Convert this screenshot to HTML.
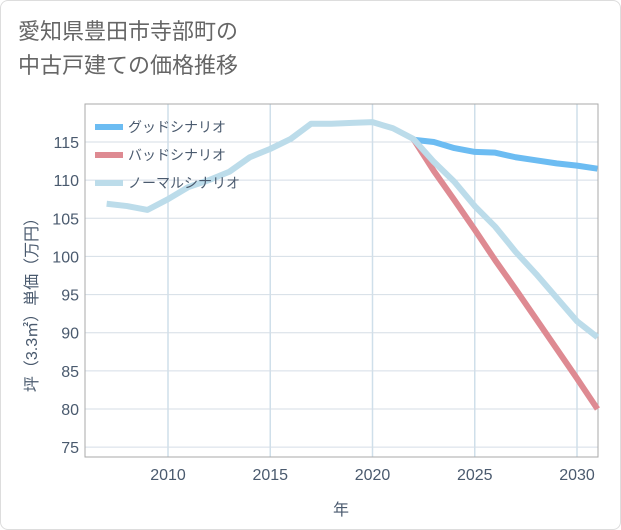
<!DOCTYPE html>
<html><head><meta charset="utf-8"><style>
body{margin:0;background:#fff;}
#wrap{position:relative;width:619px;height:528px;border:1px solid #ddd;border-radius:8px;background:#fff;overflow:hidden;font-family:"Liberation Sans","Noto Sans CJK JP",sans-serif;}
#title{position:absolute;left:17px;top:14px;font-size:22px;line-height:34px;color:#666;}
svg{position:absolute;left:0;top:0;}
</style></head><body>
<div id="wrap">
<div id="title">愛知県豊田市寺部町の<br>中古戸建ての価格推移</div>
<svg id="chart" width="621" height="530"></svg>
</div>
<script>
const years=[2007,2008,2009,2010,2011,2012,2013,2014,2015,2016,2017,2018,2019,2020,2021,2022,2023,2024,2025,2026,2027,2028,2029,2030,2031];
const normal=[106.9,106.6,106.1,107.5,109.1,110,111.1,113,114.1,115.4,117.4,117.4,117.5,117.6,116.8,115.4,112.4,109.8,106.6,103.9,100.6,97.7,94.6,91.5,89.4];
const goodYears=[2022,2023,2024,2025,2026,2027,2028,2029,2030,2031];
const good=[115.3,115.0,114.2,113.7,113.6,113.0,112.6,112.2,111.9,111.5];
const badYears=[2022,2023,2024,2025,2026,2027,2028,2029,2030,2031];
const bad=[115.4,111.2,107.4,103.5,99.5,95.7,91.8,87.9,84.0,80.0];
const xTicks=[2010,2015,2020,2025,2030];
const yTicks=[75,80,85,90,95,100,105,110,115];
const L=84,R=597,T=103,B=456;
const x=y=>167+(y-2010)*(576-167)/20;
const yv=v=>141+(115-v)*(408-141)/35;
const NS="http://www.w3.org/2000/svg",svg=document.getElementById('chart');
const TC='#4a5a6e';
function mk(t,a,p){const e=document.createElementNS(NS,t);for(const k in a)e.setAttribute(k,a[k]);(p||svg).appendChild(e);return e;}
for(const t of xTicks){const l=mk('line',{x1:x(t),x2:x(t),y1:T,y2:B,stroke:'#cfdfea','stroke-width':1.5});


const tx=mk('text',{x:x(t),y:479,'text-anchor':'middle','font-size':16,fill:TC});tx.textContent=t;

}
for(const t of yTicks){const l=mk('line',{x1:L,x2:R,y1:yv(t),y2:yv(t),stroke:'#d5dee6','stroke-width':1});


const tx=mk('text',{x:78,y:yv(t)+6,'text-anchor':'end','font-size':16,fill:TC});tx.textContent=t;

}
const fr=mk('rect',{x:L,y:T,width:R-L,height:B-T,fill:'none',stroke:'#aaa','stroke-width':1});


function line(xs,vs,c,name){const p=mk('polyline',{points:xs.map((t,i)=>x(t)+','+yv(vs[i])).join(' '),fill:'none',stroke:c,'stroke-width':6,'stroke-linejoin':'round'});

}
line(goodYears,good,'#6cbcf2','good-scenario-line');
line(badYears,bad,'#de8a92','bad-scenario-line');
line(years,normal,'#bcdcea','normal-scenario-line');
const leg=[['グッドシナリオ','#6cbcf2','legend-good'],['バッドシナリオ','#de8a92','legend-bad'],['ノーマルシナリオ','#bcdcea','legend-normal']];
leg.forEach((d,i)=>{const g=mk('g',{});


const yy=126+i*28;mk('line',{x1:94,x2:122,y1:yy,y2:yy,stroke:d[1],'stroke-width':6},g);
const t=mk('text',{x:127,y:yy+5,'font-size':14,fill:TC},g);t.textContent=d[0];});
const xt=mk('text',{x:340,y:514,'text-anchor':'middle','font-size':16,fill:TC});xt.textContent='年';


const yt=mk('text',{x:0,y:0,'text-anchor':'middle','font-size':16,fill:TC,transform:'translate(36,300) rotate(-90)'});yt.textContent='坪（3.3㎡）単価（万円）';


</script>
</body></html>
